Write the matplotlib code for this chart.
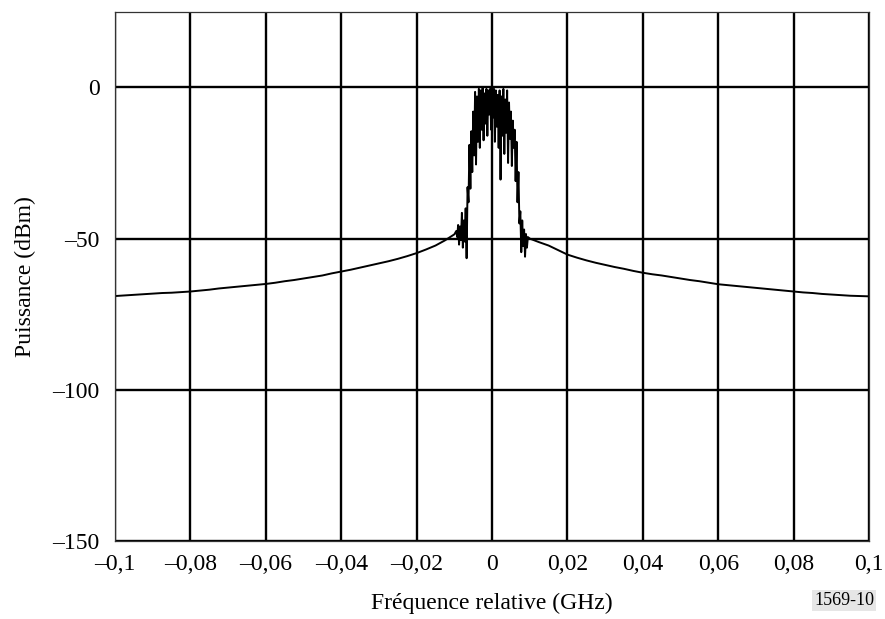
import matplotlib.pyplot as plt
import numpy as np
from matplotlib.ticker import FuncFormatter

plt.rcParams['font.family'] = ['Liberation Serif', 'DejaVu Serif']

# wings sampled every 0.0025 GHz
left_wing_db = [-69.0, -68.8, -68.6, -68.4, -68.2, -68.0, -67.9, -67.7, -67.5,
                -67.2, -66.9, -66.5, -66.2, -65.9, -65.6, -65.3, -65.0, -64.6,
                -64.1, -63.7, -63.2, -62.7, -62.2, -61.5, -60.9, -60.3, -59.6,
                -58.9, -58.2, -57.5, -56.7, -55.8, -54.8, -53.6, -52.3, -50.6,
                -48.6]
right_wing_db = [-50.0, -51.2, -52.3, -53.8, -55.3, -56.3, -57.2, -58.0, -58.7,
                 -59.4, -60.0, -60.7, -61.3, -61.8, -62.2, -62.7, -63.2, -63.7,
                 -64.1, -64.6, -65.1, -65.4, -65.7, -66.0, -66.3, -66.6, -66.9,
                 -67.2, -67.5, -67.8, -68.0, -68.3, -68.5, -68.7, -68.9, -69.0,
                 -69.1]
# centre, sampled every 0.00025 GHz from -0.0095 to 0.0095
center_db = [-47.5, -49.5, -45.5, -52.0, -46.0, -50.5, -41.5, -53.0, -44.0, -51.0,
             -40.0, -56.5, -33.0, -38.0, -19.0, -33.5, -14.5, -28.0, -8.0, -22.5,
             -1.5, -25.5, -3.0, -18.0, -0.5, -20.0, -1.0, -14.0, 0.0, -17.5,
             -2.0, -12.0, -0.5, -16.0, -1.0, -9.0, -0.5, -14.0, -2.0, -10.0,
             -0.5, -18.0, -1.0, -13.0, -2.5, -20.0, -1.0, -30.5, -3.0, -16.0,
             -0.5, -22.0, -4.0, -15.0, -1.0, -25.0, -5.0, -17.0, -8.0, -26.0,
             -11.0, -20.0, -14.0, -31.0, -18.0, -38.0, -28.0, -45.0, -41.0, -54.5,
             -44.0, -52.5, -47.0, -56.0, -48.5, -53.0, -49.5]

x_ticks = [-0.1, -0.08, -0.06, -0.04, -0.02, 0, 0.02, 0.04, 0.06, 0.08, 0.1]
y_ticks = [-150, -100, -50, 0]

left_f = np.linspace(-0.1, -0.01, len(left_wing_db))
right_f = np.linspace(0.01, 0.1, len(right_wing_db))
center_f = np.linspace(-0.0095, 0.0095, len(center_db))
freq = np.concatenate([left_f, center_f, right_f])
power = np.concatenate([left_wing_db, center_db, right_wing_db])


def fmt(v, pos):
    s = ('%g' % round(v, 4)).replace('.', ',')
    return s.replace('-', '\u2013')


fig = plt.figure(figsize=(8.85, 6.19), dpi=100)
ax = fig.add_axes([0.13, 0.126, 0.852, 0.855])
ax.plot(freq, power, color='black', lw=1.4)
ax.set_xlim(-0.1, 0.1)
ax.set_ylim(-150, 25)
ax.set_xticks(x_ticks)
ax.set_yticks(y_ticks)
ax.xaxis.set_major_formatter(FuncFormatter(fmt))
ax.yaxis.set_major_formatter(FuncFormatter(fmt))
ax.tick_params(length=0, labelsize=17)
ax.tick_params(axis='x', pad=9)
ax.tick_params(axis='y', pad=11)
ax.grid(True, color='black', lw=1.7)
for s in ax.spines.values():
    s.set_linewidth(0.9)
    s.set_color('#333333')
ax.set_xlabel('Fréquence relative (GHz)', fontsize=17, labelpad=13)
ax.set_ylabel('Puissance (dBm)', fontsize=17, labelpad=12)
fig.text(0.954, 0.03, '1569-10', fontsize=13, ha='center', va='center',
         bbox=dict(facecolor='#e6e6e6', edgecolor='none', pad=1.5))
fig.savefig('out.png', dpi=100)
